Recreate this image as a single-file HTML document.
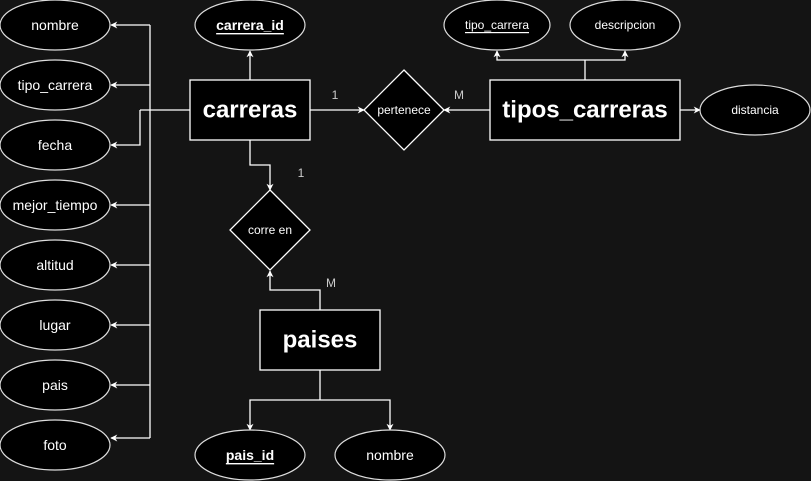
<!DOCTYPE html>
<html><head><meta charset="utf-8"><style>
html,body{margin:0;padding:0;background:#141414;}
svg{display:block;}
text{font-family:"Liberation Sans",Arial,sans-serif;fill:#fff;text-anchor:middle;dominant-baseline:central;}
</style></head><body>
<svg width="811" height="481" viewBox="0 0 811 481" xmlns="http://www.w3.org/2000/svg">
<defs>
<marker id="a" viewBox="0 0 10 10" refX="9" refY="5" markerWidth="7" markerHeight="7" orient="auto" markerUnits="userSpaceOnUse">
<path d="M0,0 L10,5 L0,10 L3,5 Z" fill="#fff"/>
</marker>
</defs>
<rect width="811" height="481" fill="#141414"/>
<g stroke="#fff" stroke-width="1.3" fill="none">
<!-- left attributes -->
<line x1="150" y1="25" x2="150" y2="438"/>
<line x1="190" y1="110" x2="140" y2="110"/>
<polyline points="140,110 140,145 111,145" marker-end="url(#a)"/>
<line x1="150" y1="25" x2="111" y2="25" marker-end="url(#a)"/>
<line x1="150" y1="85" x2="111" y2="85" marker-end="url(#a)"/>
<line x1="150" y1="205" x2="111" y2="205" marker-end="url(#a)"/>
<line x1="150" y1="265" x2="111" y2="265" marker-end="url(#a)"/>
<line x1="150" y1="325" x2="111" y2="325" marker-end="url(#a)"/>
<line x1="150" y1="385" x2="111" y2="385" marker-end="url(#a)"/>
<line x1="150" y1="438" x2="111" y2="438" marker-end="url(#a)"/>
<line x1="250" y1="80" x2="250" y2="51" marker-end="url(#a)"/>
<line x1="310" y1="110" x2="364" y2="110" marker-end="url(#a)"/>
<line x1="490" y1="110" x2="444" y2="110" marker-end="url(#a)"/>
<line x1="680" y1="110" x2="700" y2="110" marker-end="url(#a)"/>
<line x1="585" y1="80" x2="585" y2="60"/>
<polyline points="585,60 497,60 497,51" marker-end="url(#a)"/>
<polyline points="585,60 625,60 625,51" marker-end="url(#a)"/>
<polyline points="250,140 250,165 270,165 270,190" marker-end="url(#a)"/>
<polyline points="320,310 320,290 270,290 270,271" marker-end="url(#a)"/>
<line x1="320" y1="370" x2="320" y2="400"/>
<polyline points="320,400 250,400 250,430" marker-end="url(#a)"/>
<polyline points="320,400 390,400 390,430" marker-end="url(#a)"/>
</g>
<g stroke="#ddd" stroke-width="1.2" fill="#000">
<ellipse cx="55" cy="25" rx="55" ry="25"/>
<ellipse cx="55" cy="85" rx="55" ry="25"/>
<ellipse cx="55" cy="145" rx="55" ry="25"/>
<ellipse cx="55" cy="205" rx="55" ry="25"/>
<ellipse cx="55" cy="265" rx="55" ry="25"/>
<ellipse cx="55" cy="325" rx="55" ry="25"/>
<ellipse cx="55" cy="385" rx="55" ry="25"/>
<ellipse cx="55" cy="445" rx="55" ry="25"/>
<ellipse cx="250" cy="25" rx="55" ry="25"/>
<ellipse cx="497" cy="25" rx="53" ry="25"/>
<ellipse cx="625" cy="25" rx="55" ry="25"/>
<ellipse cx="755" cy="110" rx="55" ry="25"/>
<ellipse cx="250" cy="455" rx="55" ry="25"/>
<ellipse cx="390" cy="455" rx="55" ry="25"/>
</g>
<g stroke="#fff" stroke-width="1.3" fill="#000">
<rect x="190" y="80" width="120" height="60"/>
<rect x="490" y="80" width="190" height="60"/>
<rect x="260" y="310" width="120" height="60"/>
<polygon points="404,70 444,110 404,150 364,110"/>
<polygon points="270,190 310,230 270,270 230,230"/>
</g>
<g font-size="14">
<text x="55" y="25">nombre</text>
<text x="55" y="85">tipo_carrera</text>
<text x="55" y="145">fecha</text>
<text x="55" y="205">mejor_tiempo</text>
<text x="55" y="265">altitud</text>
<text x="55" y="325">lugar</text>
<text x="55" y="385">pais</text>
<text x="55" y="445">foto</text>
<text x="390" y="455">nombre</text>
</g>
<text x="250" y="25" font-size="14" font-weight="bold" text-decoration="underline">carrera_id</text>
<text x="250" y="455" font-size="14" font-weight="bold" text-decoration="underline">pais_id</text>
<text x="497" y="25" font-size="12" text-decoration="underline">tipo_carrera</text>
<text x="625" y="25" font-size="12">descripcion</text>
<text x="755" y="110" font-size="12">distancia</text>
<text x="404" y="110" font-size="12">pertenece</text>
<text x="270" y="230" font-size="12">corre en</text>
<text x="250" y="110" font-size="24" font-weight="bold">carreras</text>
<text x="585" y="110" font-size="24" font-weight="bold">tipos_carreras</text>
<text x="320" y="340" font-size="24" font-weight="bold">paises</text>
<g font-size="12" style="fill:#ccc">
<text x="335" y="95" style="fill:#ccc">1</text>
<text x="459" y="95" style="fill:#ccc">M</text>
<text x="301" y="173" style="fill:#ccc">1</text>
<text x="331" y="283" style="fill:#ccc">M</text>
</g>
</svg>
</body></html>
